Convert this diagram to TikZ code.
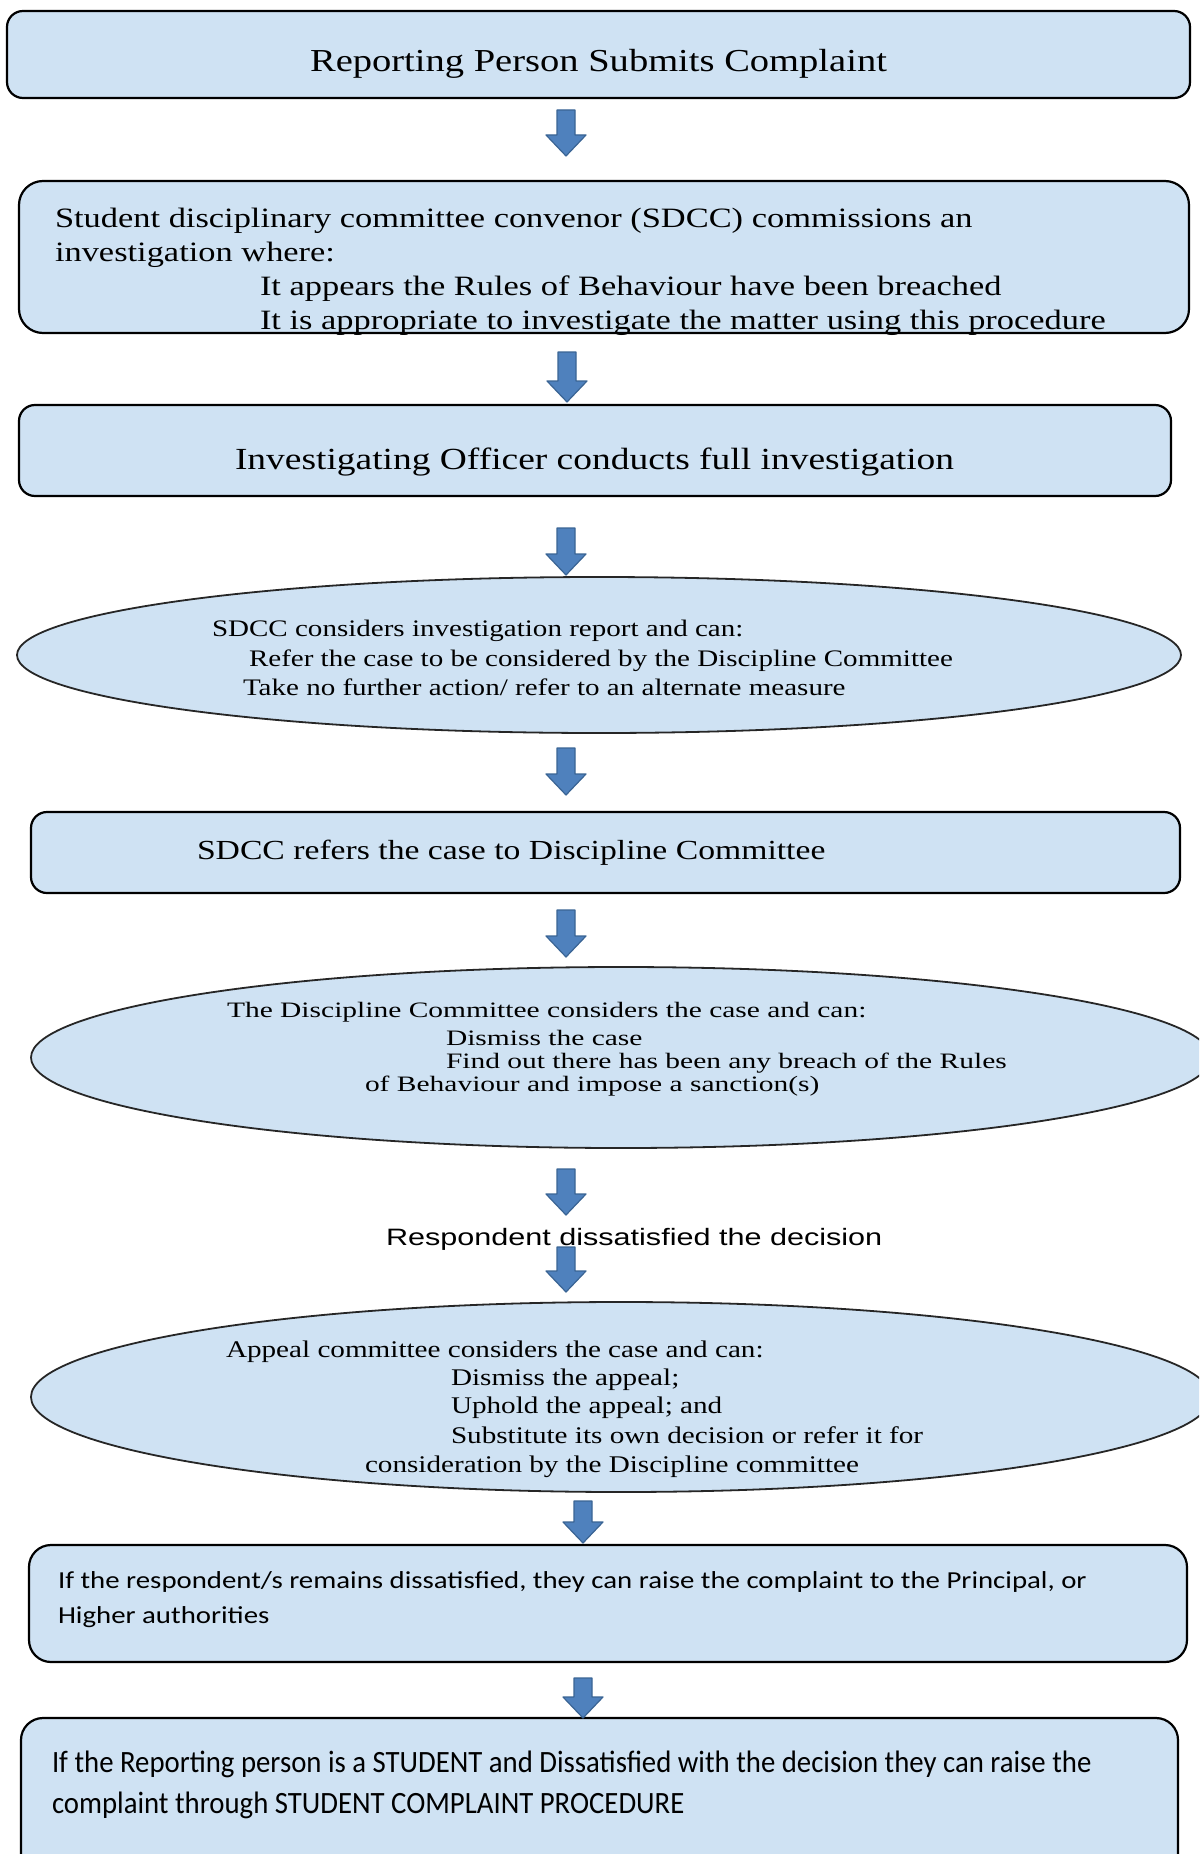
\documentclass[tikz,border=0pt]{standalone}
\usepackage{fontspec}
\usepackage{graphicx}
\setmainfont{Liberation Serif}
\newfontfamily\arialf{Liberation Sans}
\newfontfamily\calf{Carlito}
\usetikzlibrary{shapes.geometric}
\definecolor{boxfill}{HTML}{CFE2F3}
\definecolor{arrfill}{HTML}{4F81BD}
\definecolor{arrline}{HTML}{3A6494}
\newcommand\myhs[2]{\scalebox{#1}[1]{#2}}
\newcommand\fs[1]{\fontsize{#1}{#1}\selectfont}
\tikzset{
  box/.style={draw=black, line width=2.2pt, fill=boxfill, rounded corners=16pt, rectangle, inner sep=0pt},
  oval/.style={draw=black!85, line width=1.8pt, fill=boxfill, ellipse, inner sep=0pt},
  txt/.style={anchor=base west, inner sep=0pt, outer sep=0pt},
  barrow/.pic={\filldraw[fill=arrfill, draw=arrline, line width=1.2pt, line join=round]
    (-9,0) -- (9,0) -- (9,#1-21) -- (20,#1-21) -- (0,#1) -- (-20,#1-21) -- (-9,#1-21) -- cycle;}
}
\begin{document}
\begin{tikzpicture}[x=1pt,y=-1pt]
\clip (0,0) rectangle (1199,1854);
\useasboundingbox (0,0) rectangle (1199,1854);
\fill[white] (0,0) rectangle (1199,1854);

% shapes
\node[box, minimum width=1183pt, minimum height=87pt] (b1) at (598.5,54.5) {};
\node[box, rounded corners=24pt, minimum width=1170pt, minimum height=152pt] (b2) at (604,257) {};
\node[box, minimum width=1152pt, minimum height=91pt] (b3) at (595,450.5) {};
\node[oval, minimum width=1164pt, minimum height=156pt] (e1) at (599,655) {};
\node[box, minimum width=1149pt, minimum height=81pt] (b5) at (605.5,852.5) {};
\node[oval, minimum width=1180pt, minimum height=181pt] (e2) at (621,1057.5) {};
\node[oval, minimum width=1180pt, minimum height=190pt] (e3) at (621,1397) {};
\node[box, rounded corners=22pt, minimum width=1158pt, minimum height=117pt] (b8) at (608,1603.5) {};
\node[box, rounded corners=22pt, minimum width=1157pt, minimum height=162pt] (b9) at (599.5,1799) {};

% block arrows
\pic at (566,110) {barrow=46};
\pic at (567,352) {barrow=50};
\pic at (566,528) {barrow=47};
\pic at (566,748) {barrow=47};
\pic at (566,910) {barrow=47};
\pic at (566,1169) {barrow=46};
\pic at (566,1247) {barrow=45};
\pic at (583,1501) {barrow=42};
\pic at (583,1678) {barrow=40};

% texts
\node[anchor=base, inner sep=0pt, font=\fs{32}] (t1) at (598.5,72) {\myhs{1.204}{Reporting Person Submits Complaint}};

\node[txt, font=\fs{28}] (t2a) at (55,227) {\myhs{1.229}{Student disciplinary committee convenor (SDCC) commissions an}};
\node[txt, font=\fs{28}] (t2b) at (55,261) {\myhs{1.229}{investigation where:}};
\node[txt, font=\fs{28}] (t2c) at (260,295) {\myhs{1.229}{It appears the Rules of Behaviour have been breached}};
\node[txt, font=\fs{28}] (t2d) at (260,329) {\myhs{1.229}{It is appropriate to investigate the matter using this procedure}};

\node[txt, font=\fs{30.7}] (t3) at (235,469) {\myhs{1.22}{Investigating Officer conducts full investigation}};

\node[txt, font=\fs{23.7}] (t4a) at (212,636) {\myhs{1.225}{SDCC considers investigation report and can:}};
\node[txt, font=\fs{23.7}] (t4b) at (249,666.5) {\myhs{1.225}{Refer the case to be considered by the Discipline Committee}};
\node[txt, font=\fs{23.7}] (t4c) at (243,695) {\myhs{1.225}{Take no further action/ refer to an alternate measure}};

\node[txt, font=\fs{27.6}] (t5) at (197,859) {\myhs{1.22}{SDCC refers the case to Discipline Committee}};

\node[txt, font=\fs{22}] (t6a) at (227,1017) {\myhs{1.34}{The Discipline Committee considers the case and can:}};
\node[txt, font=\fs{22}] (t6b) at (446,1045) {\myhs{1.34}{Dismiss the case}};
\node[txt, font=\fs{22}] (t6c) at (446,1068) {\myhs{1.34}{Find out there has been any breach of the Rules}};
\node[txt, font=\fs{22}] (t6d) at (365,1091) {\myhs{1.34}{of Behaviour and impose a sanction(s)}};

\node[txt, font=\arialf\fs{23.7}] (tr) at (386,1245) {\myhs{1.29}{Respondent dissatisfied the decision}};

\node[txt, font=\fs{23.9}] (t7a) at (226,1357) {\myhs{1.22}{Appeal committee considers the case and can:}};
\node[txt, font=\fs{23.9}] (t7b) at (451,1385) {\myhs{1.22}{Dismiss the appeal;}};
\node[txt, font=\fs{23.9}] (t7c) at (451,1413) {\myhs{1.22}{Uphold the appeal; and}};
\node[txt, font=\fs{23.9}] (t7d) at (451,1443) {\myhs{1.22}{Substitute its own decision or refer it for}};
\node[txt, font=\fs{23.9}] (t7e) at (365,1472) {\myhs{1.22}{consideration by the Discipline committee}};

\node[txt, font=\calf\fs{24.4}] (t8a) at (58,1588) {\myhs{1.181}{If the respondent/s remains dissatisfied, they can raise the complaint to the Principal, or}};
\node[txt, font=\calf\fs{24.4}] (t8b) at (58,1623) {\myhs{1.181}{Higher authorities}};

\node[txt, font=\calf\fs{31}] (t9a) at (52,1772) {\myhs{0.928}{If the Reporting person is a STUDENT and Dissatisfied with the decision they can raise the}};
\node[txt, font=\calf\fs{31}] (t9b) at (52,1813) {\myhs{0.928}{complaint through STUDENT COMPLAINT PROCEDURE}};
\end{tikzpicture}
\end{document}
